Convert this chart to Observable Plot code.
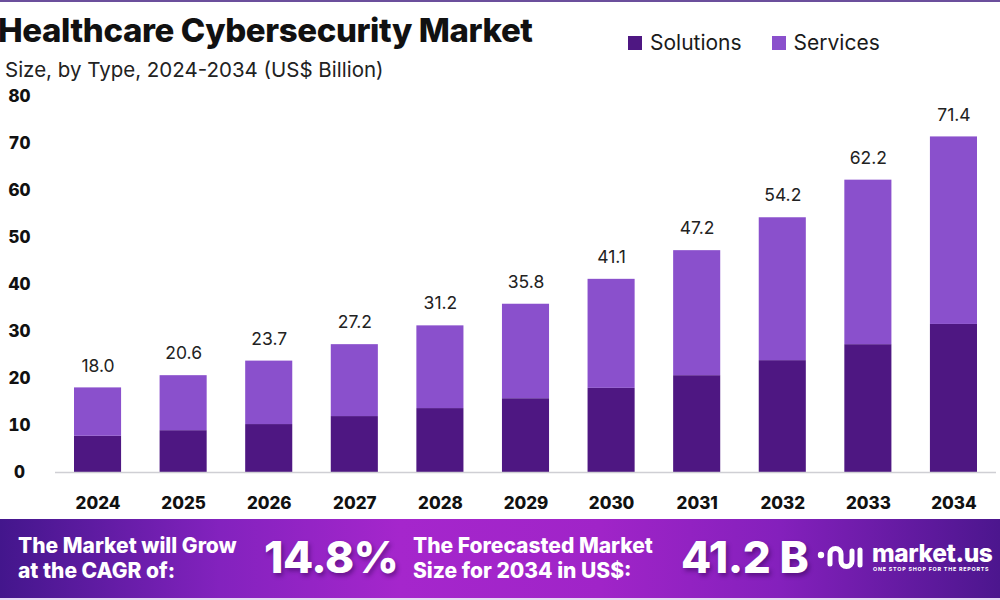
<!DOCTYPE html>
<html>
<head>
<meta charset="utf-8">
<script src="https://cdn.jsdelivr.net/npm/d3@7"></script>
<script src="https://cdn.jsdelivr.net/npm/@observablehq/plot@0.6"></script>
<style>
  html, body { margin: 0; padding: 0; background: #ffffff; }
  body { width: 1000px; height: 600px; position: relative; overflow: hidden; font-family: Inter, "Noto Sans", sans-serif; }
  .topline { position: absolute; left: 0; top: 0; width: 1000px; height: 2px; background: #6b4f9c; }
  .title { position: absolute; left: -2px; top: 10px; font-size: 33px; font-weight: 800; color: #111; letter-spacing: -0.4px; white-space: nowrap; }
  .subtitle { position: absolute; left: 5px; top: 57px; font-size: 20.5px; color: #222; white-space: nowrap; }
  .legend { position: absolute; left: 628px; top: 30px; display: flex; gap: 30px; font-size: 21px; color: #1a1a1a; }
  .legend span { display: inline-flex; align-items: center; }
  .legend i { display: inline-block; width: 14px; height: 14px; margin-right: 8px; }
  #chart { position: absolute; left: 0; top: 80px; }
  .banner { position: absolute; left: 0; top: 519px; width: 1000px; height: 79px;
    background: linear-gradient(90deg, #43168c 0%, #8322be 22%, #a526cc 40%, #a024c8 60%, #8420bc 78%, #4c168e 100%); color: #fff; }
  .bottomline { position: absolute; left: 0; top: 598px; width: 1000px; height: 2px; background: #e6d8f4; }
  .banner .txt { position: absolute; font-size: 21px; font-weight: 800; line-height: 25px; white-space: nowrap; }
  .banner .big { position: absolute; font-size: 44px; font-weight: 800; letter-spacing: -0.5px; white-space: nowrap; text-shadow: 2px 3px 4px rgba(40,0,70,0.45); }
  .logo { position: absolute; left: 812px; top: 0; }
</style>
</head>
<body>
<div class="topline"></div>
<div class="title">Healthcare Cybersecurity Market</div>
<div class="subtitle">Size, by Type, 2024-2034 (US$ Billion)</div>
<div class="legend" id="legend"></div>
<div id="chart"></div>
<div class="banner">
  <div class="txt" style="left:18px; top:14px;">The Market will Grow<br>at the CAGR of:</div>
  <div class="big" style="left:264px; top:11px;">14.8%</div>
  <div class="txt" style="left:413px; top:14px;">The Forecasted Market<br>Size for 2034 in US$:</div>
  <div class="big" style="left:681px; top:11px;">41.2 B</div>
  <svg class="logo" width="188" height="79" viewBox="0 0 188 79">
    <g fill="none" stroke="#fff" stroke-width="5" stroke-linecap="round">
      <path d="M18 45 V35 a5.5 5.5 0 0 1 11 0 V42 a5.5 5.5 0 0 0 11 0 V32"/>
      <path d="M48 31 V46"/>
    </g>
    <circle cx="9" cy="36" r="3.2" fill="#fff"/>
    <text x="60" y="43" fill="#fff" font-family="Inter, sans-serif" font-weight="800" font-size="24.5" letter-spacing="-0.4">market.us</text>
    <text x="61" y="52" fill="#fff" font-family="Inter, sans-serif" font-weight="700" font-size="5.4" letter-spacing="0.75">ONE STOP SHOP FOR THE REPORTS</text>
  </svg>
</div>
<div class="bottomline"></div>
<script>
// Market size by type, US$ billion
const years = ["2024","2025","2026","2027","2028","2029","2030","2031","2032","2033","2034"];
const totals = [18.0, 20.6, 23.7, 27.2, 31.2, 35.8, 41.1, 47.2, 54.2, 62.2, 71.4];
const solutions = [7.7, 8.9, 10.2, 11.9, 13.6, 15.7, 17.9, 20.6, 23.8, 27.2, 31.5];
const types = ["Solutions", "Services"];
const colors = ["#4e1782", "#8a50cc"];
const yTicks = [0, 10, 20, 30, 40, 50, 60, 70, 80];

// Services is the remainder of each year's total
const rows = [];
years.forEach((yr, i) => {
  rows.push({year: yr, type: "Solutions", value: solutions[i]});
  rows.push({year: yr, type: "Services", value: +(totals[i] - solutions[i]).toFixed(1)});
});
const labels = years.map((yr, i) => ({year: yr, total: totals[i]}));

// Legend
const legend = document.getElementById("legend");
types.forEach((t, i) => {
  const s = document.createElement("span");
  s.innerHTML = `<i style="background:${colors[i]}"></i>${t}`;
  legend.appendChild(s);
});

const chart = Plot.plot({
  width: 1000,
  height: 440,
  marginTop: 16,
  marginBottom: 48,
  marginLeft: 55,
  marginRight: 4,
  style: {fontFamily: "Inter, sans-serif", background: "transparent", overflow: "visible"},
  x: {domain: years, paddingInner: 0.45, paddingOuter: 0.222, round: false, label: null},
  y: {domain: [0, 80], label: null},
  color: {domain: types, range: colors},
  marks: [
    Plot.barY(rows, {x: "year", y: "value", fill: "type"}),
    Plot.ruleY([0], {stroke: "#cfcfd4", strokeWidth: 1.5}),
    Plot.text(labels, {x: "year", y: "total", text: d => d.total.toFixed(1), dy: -22, fontSize: 17.5, fill: "#222"}),
    Plot.axisY(yTicks, {tickSize: 0, tickPadding: 36, textAnchor: "middle", fontSize: 17, fontWeight: 800, fill: "#111", label: null}),
    Plot.axisX({tickSize: 0, tickPadding: 24, fontSize: 17, fontWeight: 800, fill: "#111", label: null})
  ]
});
document.getElementById("chart").appendChild(chart);
</script>
</body>
</html>
